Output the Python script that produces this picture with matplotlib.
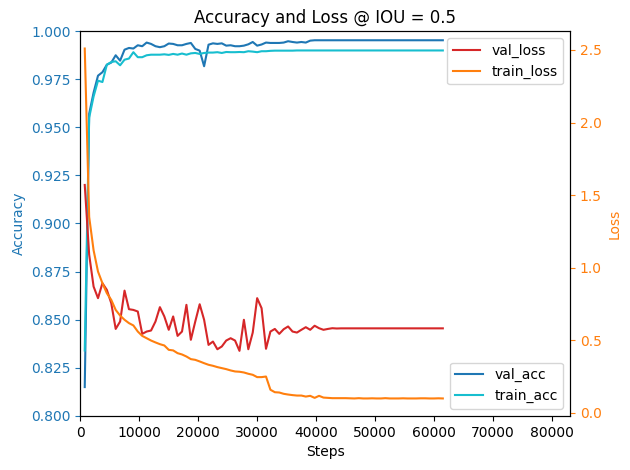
import numpy as np
import matplotlib
matplotlib.use("Agg")
import matplotlib.pyplot as plt

steps = np.arange(750, 61501, 750)

val_acc = [0.8150, 0.9570, 0.9680, 0.9768, 0.9786, 0.9825, 0.9836, 0.9874, 0.9846, 0.9903,
           0.9912, 0.9909, 0.9926, 0.9921, 0.9940, 0.9933, 0.9921, 0.9916, 0.9921, 0.9935,
           0.9933, 0.9926, 0.9926, 0.9933, 0.9938, 0.9907, 0.9898, 0.9817, 0.9929, 0.9936,
           0.9933, 0.9936, 0.9924, 0.9926, 0.9921, 0.9921, 0.9924, 0.9931, 0.9943, 0.9924,
           0.9930, 0.9940, 0.9938, 0.9938, 0.9938, 0.9940, 0.9947, 0.9943, 0.9940, 0.9943,
           0.9940, 0.9950, 0.9952, 0.9952, 0.9952, 0.9952, 0.9952, 0.9952, 0.9952, 0.9952,
           0.9952, 0.9952, 0.9952, 0.9952, 0.9952, 0.9952, 0.9952, 0.9952, 0.9952, 0.9952,
           0.9952, 0.9952, 0.9952, 0.9952, 0.9952, 0.9952, 0.9952, 0.9952, 0.9952, 0.9952,
           0.9952, 0.9952]

train_acc = [0.8340, 0.9550, 0.9660, 0.9742, 0.9735, 0.9825, 0.9839, 0.9843, 0.9822, 0.9851,
             0.9857, 0.9890, 0.9864, 0.9864, 0.9874, 0.9877, 0.9877, 0.9877, 0.9879, 0.9876,
             0.9881, 0.9877, 0.9883, 0.9877, 0.9884, 0.9886, 0.9881, 0.9886, 0.9888, 0.9888,
             0.9890, 0.9886, 0.9891, 0.9890, 0.9890, 0.9891, 0.9890, 0.9895, 0.9893, 0.9890,
             0.9895, 0.9895, 0.9897, 0.9898, 0.9898, 0.9898, 0.9898, 0.9898, 0.9899, 0.9899,
             0.9899, 0.9899, 0.9899, 0.9899, 0.9899, 0.9899, 0.9899, 0.9899, 0.9899, 0.9899,
             0.9899, 0.9899, 0.9899, 0.9899, 0.9899, 0.9899, 0.9899, 0.9899, 0.9899, 0.9899,
             0.9899, 0.9899, 0.9899, 0.9899, 0.9899, 0.9899, 0.9899, 0.9899, 0.9899, 0.9899,
             0.9899, 0.9899]

val_loss = [1.570, 1.090, 0.870, 0.790, 0.893, 0.847, 0.755, 0.578, 0.629, 0.842,
            0.714, 0.709, 0.698, 0.544, 0.560, 0.567, 0.629, 0.728, 0.664, 0.572,
            0.664, 0.530, 0.560, 0.744, 0.503, 0.629, 0.748, 0.641, 0.468, 0.491,
            0.438, 0.457, 0.498, 0.514, 0.498, 0.427, 0.641, 0.438, 0.553, 0.790,
            0.721, 0.441, 0.560, 0.578, 0.544, 0.576, 0.595, 0.560, 0.553, 0.572,
            0.590, 0.572, 0.600, 0.583, 0.572, 0.578, 0.583, 0.581, 0.582, 0.582,
            0.582, 0.582, 0.582, 0.582, 0.582, 0.582, 0.582, 0.582, 0.582, 0.582,
            0.582, 0.582, 0.582, 0.582, 0.582, 0.582, 0.582, 0.582, 0.582, 0.582,
            0.582, 0.582]

train_loss = [2.510, 1.350, 1.120, 0.973, 0.893, 0.824, 0.778, 0.709, 0.670, 0.641,
              0.618, 0.602, 0.560, 0.530, 0.514, 0.498, 0.485, 0.473, 0.464, 0.434,
              0.430, 0.411, 0.402, 0.388, 0.370, 0.365, 0.354, 0.342, 0.331, 0.324,
              0.315, 0.308, 0.301, 0.292, 0.285, 0.283, 0.278, 0.269, 0.262, 0.246,
              0.246, 0.250, 0.159, 0.142, 0.140, 0.131, 0.126, 0.122, 0.119, 0.119,
              0.112, 0.117, 0.103, 0.117, 0.105, 0.103, 0.101, 0.101, 0.101, 0.101,
              0.100, 0.099, 0.101, 0.099, 0.099, 0.100, 0.099, 0.099, 0.101, 0.099,
              0.099, 0.099, 0.100, 0.099, 0.099, 0.099, 0.100, 0.100, 0.099, 0.099,
              0.100, 0.099]

fig, ax1 = plt.subplots(figsize=(6.3, 4.7), dpi=100)
fig.subplots_adjust(left=0.1275, right=0.905, top=0.934, bottom=0.115)

ax1.plot(steps, val_acc, color='tab:blue', label='val_acc')
ax1.plot(steps, train_acc, color='tab:cyan', label='train_acc')
ax1.set_ylim(0.8, 1.0)
ax1.set_xlim(0, 83100)
ax1.set_xlabel('Steps')
ax1.set_ylabel('Accuracy', color='tab:blue')
ax1.tick_params(axis='y', colors='tab:blue')
ax1.legend(loc='lower right')
ax1.set_title('Accuracy and Loss @ IOU = 0.5')

ax2 = ax1.twinx()
ax2.plot(steps, val_loss, color='tab:red', label='val_loss')
ax2.plot(steps, train_loss, color='tab:orange', label='train_loss')
ax2.set_ylabel('Loss', color='tab:orange')
ax2.tick_params(axis='y', colors='tab:orange')
ax2.legend(loc='upper right')

fig.savefig('out.png', dpi=100)
